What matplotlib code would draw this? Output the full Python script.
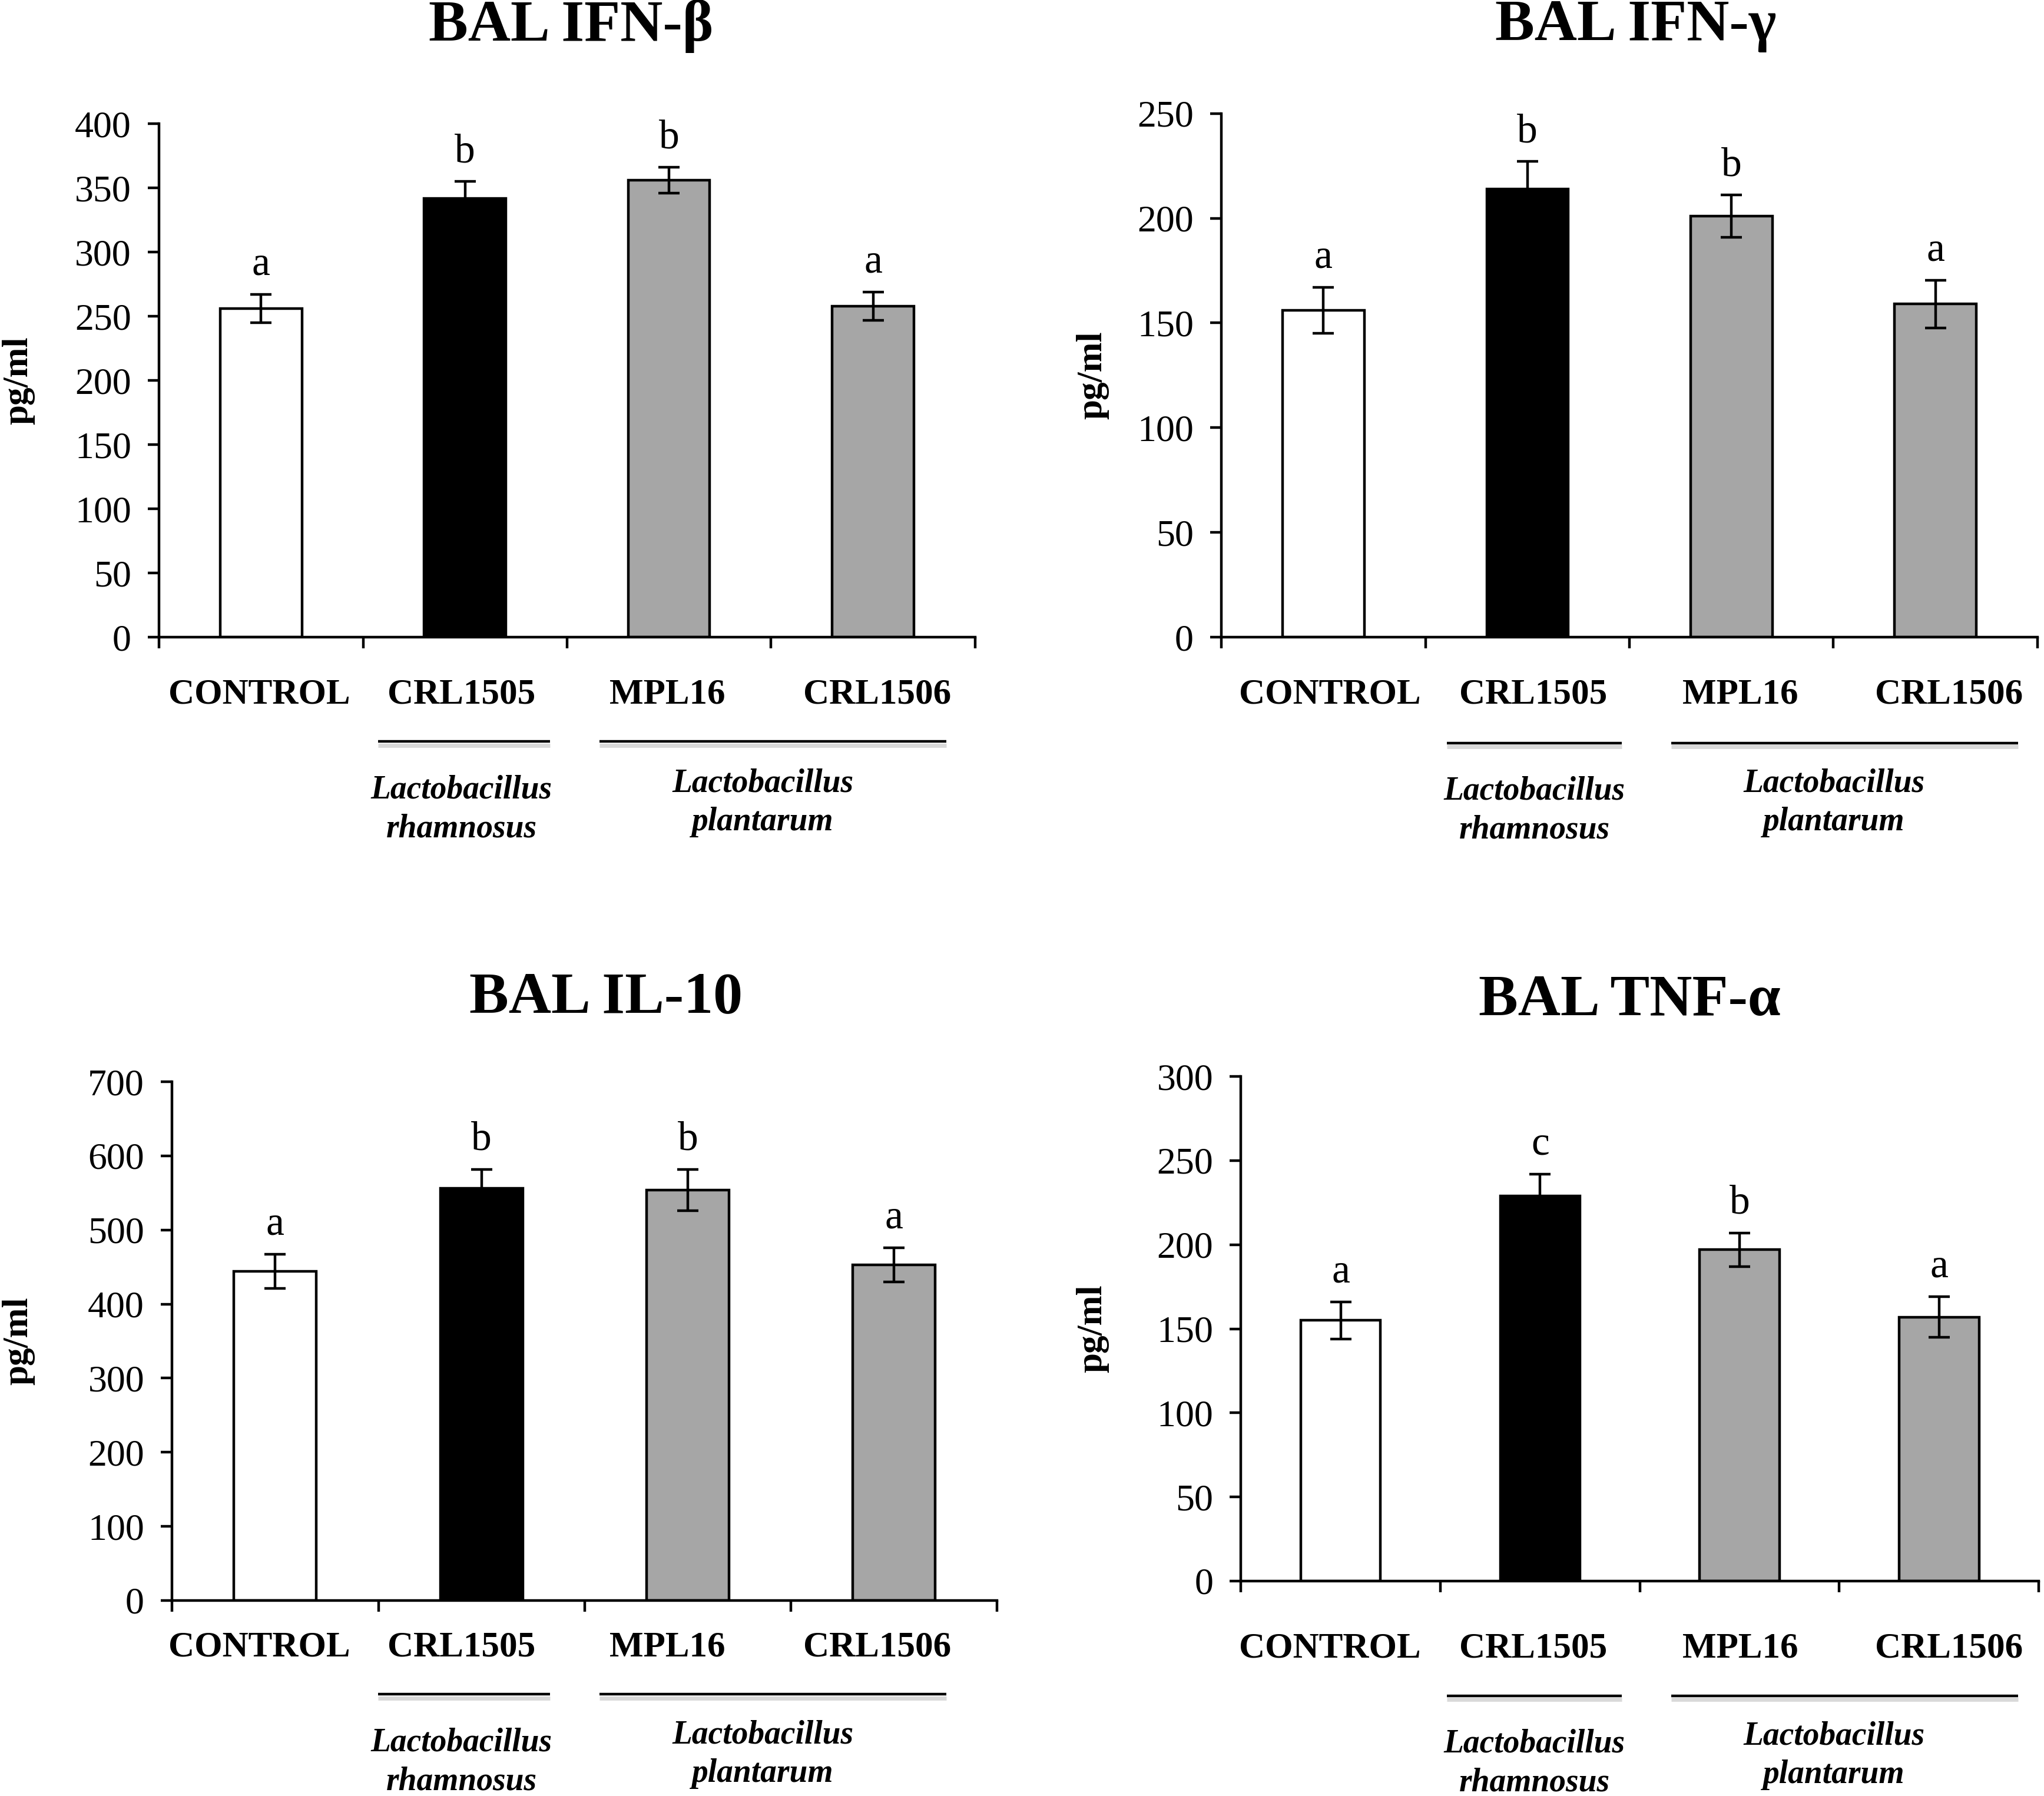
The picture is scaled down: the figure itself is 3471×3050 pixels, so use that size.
import matplotlib
matplotlib.use("Agg")
import matplotlib.pyplot as plt

plt.rcParams["font.family"] = ["Liberation Serif", "DejaVu Serif"]

groups = ["CONTROL", "CRL1505", "MPL16", "CRL1506"]
colors = ["white", "black", "#a6a6a6", "#a6a6a6"]

ifnb = [256, 342, 356, 258]
ifnb_err = [11, 13, 10, 11]
ifnb_sig = ["a", "b", "b", "a"]

ifng = [156, 214, 201, 159]
ifng_err = [11, 13, 10, 11.5]
ifng_sig = ["a", "b", "b", "a"]

il10 = [444, 556, 554, 453]
il10_err = [23, 26, 28, 23]
il10_sig = ["a", "b", "b", "a"]

tnfa = [155, 229, 197, 157]
tnfa_err = [11, 13, 10, 12]
tnfa_sig = ["a", "c", "b", "a"]

W, H = 1568.0, 1378.0  # layout measured in reference display px


def fx(px):
    return px / W


def fy(py):
    return 1 - py / H


fig = plt.figure(figsize=(17.355, 15.25), dpi=200)

# label x positions per column (left, right)
col_layout = {
    "L": dict(labels=[199, 354, 512, 673], lines=[(290, 422), (460, 726)], species=(354, 585)),
    "R": dict(labels=[1020, 1176, 1335, 1495], lines=[(1110, 1244), (1282, 1548)], species=(1177, 1407)),
}

panels = [
    ("BAL IFN-\u03b2", ifnb, ifnb_err, ifnb_sig, 400, 50, (122, 748, 95, 489), (438, 20), 14, "L",
     (533, 569, 621, 616)),
    ("BAL IFN-\u03b3", ifng, ifng_err, ifng_sig, 250, 50, (937, 1563, 87, 489), (1255, 20), 838, "R",
     (533, 570, 622, 616)),
    ("BAL IL-10", il10, il10_err, il10_sig, 700, 100, (132, 765, 830, 1228), (465, 766), 14, "L",
     (1264, 1300, 1352, 1346)),
    ("BAL TNF-\u03b1", tnfa, tnfa_err, tnfa_sig, 300, 50, (952, 1564, 826, 1213), (1250, 768), 838, "R",
     (1265, 1301, 1353, 1347)),
]

for title, vals, errs, sig, ymax, step, box, tpos, ylx, col, rows in panels:
    l, r, t, b = box
    ax = fig.add_axes([fx(l), fy(b), fx(r - l), (b - t) / H])
    x = list(range(len(groups)))
    ax.bar(x, vals, width=0.4, color=colors, edgecolor="black", linewidth=1.6, zorder=2)
    ax.errorbar(x, vals, yerr=errs, fmt="none", ecolor="black", elinewidth=1.6,
                capsize=6.5, capthick=1.6, zorder=3)
    for xi, v, e, s in zip(x, vals, errs, sig):
        ax.annotate(s, (xi, v + e), xytext=(0, 12), textcoords="offset points",
                    ha="center", va="baseline", fontsize=25)
    ax.set_xlim(-0.5, 3.5)
    ax.set_ylim(0, ymax)
    ax.set_yticks(range(0, ymax + 1, step))
    ax.set_xticks([-0.5, 0.5, 1.5, 2.5, 3.5])
    ax.set_xticklabels([])
    ax.tick_params(axis="y", direction="out", length=7, width=1.6, labelsize=23, pad=10)
    ax.tick_params(axis="x", direction="out", length=7, width=1.6)
    for sp in ["top", "right"]:
        ax.spines[sp].set_visible(False)
    for sp in ["left", "bottom"]:
        ax.spines[sp].set_linewidth(1.6)

    fig.text(fx(tpos[0]), fy(tpos[1]), title, ha="center", va="center",
             fontsize=36, fontweight="bold")
    fig.text(fx(ylx), (fy(t) + fy(b)) / 2, "pg/ml", rotation=90, ha="center", va="center",
             fontsize=22, fontweight="bold")

    lay = col_layout[col]
    lab_y, line_y, rh_y, pl_y = rows
    for lx, g in zip(lay["labels"], groups):
        fig.text(fx(lx), fy(lab_y), g, ha="center", va="center",
                 fontsize=22, fontweight="bold")
    for x0, x1 in lay["lines"]:
        fig.add_artist(plt.Line2D([fx(x0), fx(x1)], [fy(line_y + 3)] * 2, color="#d9d9d9",
                                  linewidth=2.5, solid_capstyle="butt"))
        fig.add_artist(plt.Line2D([fx(x0), fx(x1)], [fy(line_y)] * 2, color="black",
                                  linewidth=1.6, solid_capstyle="butt"))
    fig.text(fx(lay["species"][0]), fy(rh_y), "Lactobacillus\nrhamnosus", ha="center",
             va="center", fontsize=20, fontweight="bold", fontstyle="italic", linespacing=1.35)
    fig.text(fx(lay["species"][1]), fy(pl_y), "Lactobacillus\nplantarum", ha="center",
             va="center", fontsize=20, fontweight="bold", fontstyle="italic", linespacing=1.35)

fig.savefig("out.png", dpi=200)
